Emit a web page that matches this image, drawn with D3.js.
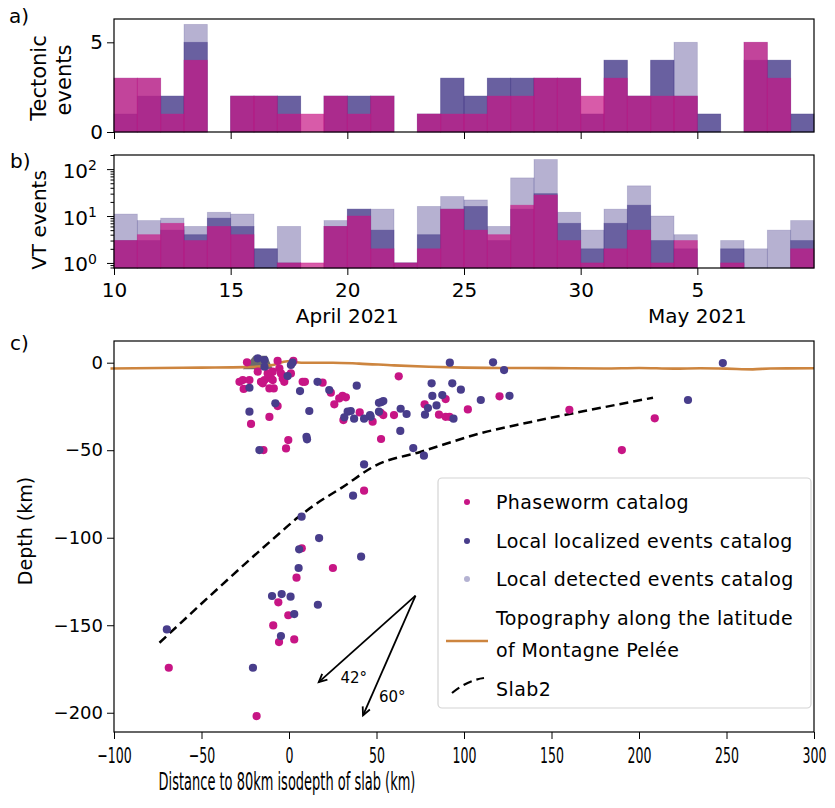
<!DOCTYPE html>
<html>
<head>
<meta charset="utf-8">
<script src="https://cdn.jsdelivr.net/npm/d3@7"></script>
<style>
  body { margin: 0; background: #fff; }
  svg text { font-family: "DejaVu Sans", sans-serif; fill: #000; }
</style>
</head>
<body>
<svg id="fig" width="835" height="808"></svg>
<script>
// ---- data ----
// daily bins, first bin starts 10 April 2021
const firstDay = "2021-04-10";
const nDays = 30;
const dateTicks = ["2021-04-10", "2021-04-15", "2021-04-20", "2021-04-25", "2021-04-30", "2021-05-05"];
const monthLabels = ["April 2021", "May 2021"];
const monthLabelDates = ["2021-04-20", "2021-05-05"];

// a) tectonic events per day
const tectDetected  = [3, 3, 2, 6, 0, 2, 2, 2, 0, 2, 2, 2, 0, 1, 3, 2, 3, 3, 3, 3, 1, 4, 2, 4, 5, 1, 0, 5, 4, 1];
const tectLocalized = [1, 2, 2, 5, 0, 2, 2, 2, 0, 2, 2, 2, 0, 1, 3, 2, 3, 3, 3, 3, 1, 4, 2, 4, 2, 1, 0, 4, 4, 1];
const tectPhaseworm = [3, 3, 1, 4, 0, 2, 2, 1, 1, 2, 1, 2, 0, 1, 1, 1, 2, 2, 3, 3, 2, 3, 2, 2, 2, 0, 0, 5, 3, 0];

// b) VT events per day
const vtDetected  = [11, 8, 9, 6, 12, 11, 2, 6, 0, 8, 14, 14, 1, 16, 26, 22, 6, 65, 160, 12, 5, 14, 44, 10, 4, 0, 3, 2, 5, 8];
const vtLocalized = [3, 3, 5, 4, 9, 6, 2, 1, 0, 6, 14, 5, 1, 4, 14, 16, 3, 14, 30, 7, 2, 7, 17, 3, 2, 0, 2, 0, 0, 3];
const vtPhaseworm = [3, 4, 7, 3, 6, 4, 0, 1, 1, 6, 10, 2, 1, 2, 14, 5, 4, 17, 28, 3, 1, 2, 5, 1, 3, 0, 1, 0, 0, 2];

// c) hypocentres [distance km, depth km]
const phasewormPts = [
  [-24, 0.2], [-6.5, 1], [2.5, 1], [-28.3, -10.9], [-26.4, -9.9], [-22.6, -9.9], [-25.9, -15], [-16, -10.9],
  [-14, -9.9], [-10.3, -9], [-9.3, -9.9], [-3.6, -9], [-2.7, -10.9], [-4.6, -6.1], [-1.7, -8], [1.1, -6.1],
  [-17.9, -5.1], [-15, -11.8], [-11.2, -14.7], [-8.7, -14.7], [-9.3, -5.1], [-12.2, -6.1], [-5.5, -3.2],
  [7.8, -10.9], [9.1, -10.9], [19.2, -11.4], [23.9, -17.1], [25.9, -23.8], [28.7, -20.4], [30.6, -19],
  [32.5, -19.8], [-6.5, -24.8], [-21.7, -35], [-11.2, -31], [-0.4, -44.2], [-1.7, -49], [-14.6, -49.9],
  [62.7, -7.8], [89.5, -20.8], [77.5, -23.8], [102.2, -26.7], [120.3, -19.2], [160.2, -26.9], [60, -29.9],
  [52.4, -28.6], [53.9, -29.9], [47.8, -33.7], [40.4, -28.4], [31.1, -32.8], [85.7, -29.7], [89.5, -30.9],
  [91.7, -30.9], [52.6, -43.6], [42.9, -73.1], [209, -31.8], [190.2, -49.9],
  [7.3, -106], [25.1, -117.3], [4.3, -122.8], [-6.1, -136.9], [-0.4, -144.3], [-9, -150.1], [-5.7, -159.6],
  [3, -158.1], [-68.7, -174.3], [-18.5, -201.9]
];
const localizedPts = [
  [-17.9, 2.5], [-14, 1.5], [2, 0], [-22.6, -14.3], [-0.8, -7.6], [-14, -2.3], [1.1, -1.3], [16.3, -10.9],
  [6.3, -16.2], [23, -15.6], [-7.8, -23.2], [-22.6, -28], [11.6, -27.6], [33.5, -28], [31.6, -31.2],
  [10, -42.3], [10.3, -43.8], [-16.9, -49.9],
  [91.9, 0], [116.6, 0.2], [122.9, -4.2], [38.7, -13.1], [81.5, -11.8], [93.3, -11.8], [98.2, -15.4],
  [81.9, -19], [87.6, -18.5], [52.8, -22.5], [53.9, -21.9], [51.4, -22.9], [84.3, -24.4], [79.4, -25.9],
  [109.6, -21.3], [126, -18.9], [63.8, -26.3], [67.2, -29.3], [51.4, -28], [46.7, -30.9], [46.3, -29.9],
  [42.9, -32], [37.2, -32], [35.3, -27.6], [77.7, -29.7], [94, -32], [63.6, -39], [71, -48.8], [77.1, -53.1],
  [42.9, -58.1], [247.9, -0.2], [228, -21.3],
  [36.6, -76], [7.2, -88], [17.2, -100.2], [5.8, -106.6], [41.2, -110.8], [5.5, -117.3], [-9.7, -133.3],
  [-4.2, -132.2], [0.9, -133.7], [16.5, -138.3], [3, -143.6], [-4.6, -156.2], [-69.8, -152.4], [-20.6, -174.3]
];
const topoDist  = [-102, -50, -25, -15, -8, -3, 1, 4, 10, 25, 40, 60, 80, 100, 120, 150, 180, 200, 220, 235, 250, 265, 275, 300];
const topoDepth = [-3.3, -2.8, -2.5, -2.0, -1, 0.5, 1, 0.3, 0, 0, -0.5, -1.5, -2.3, -2.8, -3, -3.1, -3.3, -3.0, -3.4, -3.2, -3.4, -3.8, -3.3, -3.2];
const slabDist  = [-74, -10, 5, 15, 30, 50, 75, 113, 130, 172, 208];
const slabDepth = [-160, -101.5, -88.5, -81, -71.5, -58.5, -51, -39.4, -35.6, -27, -20];
const volcano = [-17.8, 0];
const dipOrigin = [72.3, -133.1];
const dipTips = [[17, -182.5], [42.3, -201.5]];
const dipLabels = ["42°", "60°"];
const dipLabelPos = [[37, -180.2], [59, -190.9]];

const legendLabels = ["Phaseworm catalog", "Local localized events catalog", "Local detected events catalog",
  ["Topography along the latitude", "of Montagne Pelée"], "Slab2"];

// ---- styles ----
const DSB = "#483d8b";   // darkslateblue
const MVR = "#c71585";   // mediumvioletred
const seriesStyle = [
  { color: DSB, op: 0.4 },
  { color: DSB, op: 0.7 },
  { color: MVR, op: 0.7 }
];

const svg = d3.select("#fig");
const left = 114, right = 814;

const day0 = d3.utcParse("%Y-%m-%d")(firstDay);
const x = d3.scaleUtc().domain([day0, d3.utcDay.offset(day0, nDays)]).range([left, right]);
const tickDates = dateTicks.map(d3.utcParse("%Y-%m-%d"));

function drawBars(g, y, base, arrays) {
  arrays.forEach((arr, k) => {
    const st = seriesStyle[k];
    g.selectAll(null)
      .data(arr.map((v, i) => ({ v, i })).filter(d => d.v > 0))
      .enter().append("rect")
      .attr("x", d => x(d3.utcDay.offset(day0, d.i)))
      .attr("width", d => x(d3.utcDay.offset(day0, d.i + 1)) - x(d3.utcDay.offset(day0, d.i)))
      .attr("y", d => y(d.v))
      .attr("height", d => y(base) - y(d.v))
      .attr("fill", st.color).attr("fill-opacity", st.op)
      .attr("stroke", st.color).attr("stroke-opacity", st.op * 0.6).attr("stroke-width", 0.8);
  });
}

function frame(top, bottom) {
  svg.append("rect").attr("x", left).attr("y", top).attr("width", right - left).attr("height", bottom - top)
    .attr("fill", "none").attr("stroke", "#000").attr("stroke-width", 1.2);
}

// ---- panel a ----
const aTop = 19, aBot = 132;
const ya = d3.scaleLinear().domain([0, 6.3]).range([aBot, aTop]);
const ga = svg.append("g");
drawBars(ga, ya, 0, [tectDetected, tectLocalized, tectPhaseworm]);
frame(aTop, aBot);
svg.append("g").attr("transform", `translate(${left},0)`)
  .call(d3.axisLeft(ya).tickValues([0, 5]).tickFormat(d3.format("d")).tickSize(7).tickPadding(4))
  .call(g => g.select(".domain").remove())
  .call(g => g.selectAll("text").attr("font-size", 20));
svg.append("g").attr("transform", `translate(0,${aBot})`)
  .call(d3.axisBottom(x).tickValues(tickDates).tickSize(7).tickFormat(""))
  .call(g => g.select(".domain").remove());
svg.append("text").attr("transform", "translate(46,78) rotate(-90)").attr("text-anchor", "middle")
  .attr("font-size", 21).text("Tectonic");
svg.append("text").attr("transform", "translate(71,80) rotate(-90)").attr("text-anchor", "middle")
  .attr("font-size", 21).text("events");
svg.append("text").attr("x", 9).attr("y", 23).attr("font-size", 20).text("a)");

// ---- panel b ----
const bTop = 155, bBot = 268;
const yb = d3.scaleLog().domain([0.78, 200]).range([bBot, bTop]);
const gb = svg.append("g");
drawBars(gb, yb, 0.78, [vtDetected, vtLocalized, vtPhaseworm]);
frame(bTop, bBot);
const minorB = [0.8, 0.9, 2, 3, 4, 5, 6, 7, 8, 9, 20, 30, 40, 50, 60, 70, 80, 90, 200];
svg.append("g").attr("transform", `translate(${left},0)`)
  .call(d3.axisLeft(yb).tickValues(minorB).tickSize(3.5).tickFormat(""))
  .call(g => g.select(".domain").remove());
const yAxB = svg.append("g").attr("transform", `translate(${left},0)`)
  .call(d3.axisLeft(yb).tickValues([1, 10, 100]).tickSize(7).tickFormat(""))
  .call(g => g.select(".domain").remove());
yAxB.selectAll(".tick").each(function (d) {
  const t = d3.select(this).append("text").attr("x", -17).attr("dy", "0.4em")
    .attr("text-anchor", "end").attr("font-size", 20);
  t.append("tspan").text("10");
  t.append("tspan").attr("dy", "-0.55em").attr("font-size", 14).text(String(Math.round(Math.log10(d))));
});
svg.append("g").attr("transform", `translate(0,${bBot})`)
  .call(d3.axisBottom(x).tickValues(tickDates).tickSize(7).tickPadding(8).tickFormat(d3.utcFormat("%-d")))
  .call(g => g.select(".domain").remove())
  .call(g => g.selectAll("text").attr("font-size", 20));
monthLabels.forEach((m, i) => {
  svg.append("text").attr("x", x(d3.utcParse("%Y-%m-%d")(monthLabelDates[i]))).attr("y", 323)
    .attr("text-anchor", "middle").attr("font-size", 20).text(m);
});
svg.append("text").attr("transform", "translate(46,220) rotate(-90)").attr("text-anchor", "middle")
  .attr("font-size", 20).text("VT events");
svg.append("text").attr("x", 10).attr("y", 168).attr("font-size", 20).text("b)");

// ---- panel c ----
const cTop = 341, cBot = 732;
const xc = d3.scaleLinear().domain([-100, 300]).range([left, right]);
const yc = d3.scaleLinear().domain([-211, 12.4]).range([cBot, cTop]);
const gc = svg.append("g");

// volcano marker
gc.append("path")
  .attr("transform", `translate(${xc(volcano[0])},${yc(volcano[1])})`)
  .attr("d", "M-15,6.5L-4,-7L9,-7L15,6.5Z").attr("fill", "#6b6b6b");

gc.append("path")
  .datum(topoDist.map((d, i) => [d, topoDepth[i]]))
  .attr("d", d3.line().x(d => xc(d[0])).y(d => yc(d[1])).curve(d3.curveMonotoneX))
  .attr("fill", "none").attr("stroke", "#cd853f").attr("stroke-width", 2.6);

gc.append("path")
  .datum(slabDist.map((d, i) => [d, slabDepth[i]]))
  .attr("d", d3.line().x(d => xc(d[0])).y(d => yc(d[1])).curve(d3.curveMonotoneX))
  .attr("fill", "none").attr("stroke", "#000").attr("stroke-width", 2.5).attr("stroke-dasharray", "9,5");

gc.selectAll(".pw").data(phasewormPts).enter().append("circle")
  .attr("cx", d => xc(d[0])).attr("cy", d => yc(d[1])).attr("r", 4.1).attr("fill", MVR);
gc.selectAll(".lo").data(localizedPts).enter().append("circle")
  .attr("cx", d => xc(d[0])).attr("cy", d => yc(d[1])).attr("r", 4.1).attr("fill", DSB);

// dip arrows
dipTips.forEach((tip, i) => {
  const x0 = xc(dipOrigin[0]), y0 = yc(dipOrigin[1]);
  const x1 = xc(tip[0]), y1 = yc(tip[1]);
  const ang = Math.atan2(y1 - y0, x1 - x0);
  const hl = 9, ha = 0.45;
  gc.append("line").attr("x1", x0).attr("y1", y0).attr("x2", x1).attr("y2", y1)
    .attr("stroke", "#000").attr("stroke-width", 1.8);
  gc.append("path")
    .attr("d", `M${x1 - hl * Math.cos(ang - ha)},${y1 - hl * Math.sin(ang - ha)}L${x1},${y1}L${x1 - hl * Math.cos(ang + ha)},${y1 - hl * Math.sin(ang + ha)}`)
    .attr("fill", "none").attr("stroke", "#000").attr("stroke-width", 1.8);
  gc.append("text").attr("x", xc(dipLabelPos[i][0])).attr("y", yc(dipLabelPos[i][1]))
    .attr("text-anchor", "middle").attr("dy", "0.35em").attr("font-size", 15).attr("fill", "#222")
    .text(dipLabels[i]);
});

frame(cTop, cBot);
svg.append("g").attr("transform", `translate(0,${cBot})`)
  .call(d3.axisBottom(xc).tickValues(d3.range(-100, 301, 50)).tickSize(7).tickPadding(8))
  .call(g => g.select(".domain").remove())
  .call(g => g.selectAll("text").attr("font-size", 22).attr("transform", "scale(0.57,1)"));
svg.append("g").attr("transform", `translate(${left},0)`)
  .call(d3.axisLeft(yc).tickValues([0, -50, -100, -150, -200]).tickSize(7).tickPadding(4))
  .call(g => g.select(".domain").remove())
  .call(g => g.selectAll("text").attr("font-size", 18));
svg.append("text").attr("transform", "translate(287,790) scale(0.52,1)").attr("text-anchor", "middle")
  .attr("font-size", 25).text("Distance to 80km isodepth of slab (km)");
svg.append("text").attr("transform", "translate(32,531) rotate(-90)").attr("text-anchor", "middle")
  .attr("font-size", 19).text("Depth (km)");
svg.append("text").attr("x", 10).attr("y", 350).attr("font-size", 20).text("c)");

// legend
const lg = svg.append("g");
lg.append("rect").attr("x", 438).attr("y", 478).attr("width", 373).attr("height", 230).attr("rx", 4)
  .attr("fill", "#fff").attr("fill-opacity", 0.85).attr("stroke", "#d4d4d4").attr("stroke-width", 1.2);
const rowY = [502, 541, 579, 618, 689];
const mk = [MVR, DSB, "#b4b2d2"];
mk.forEach((c, i) => lg.append("circle").attr("cx", 467).attr("cy", rowY[i]).attr("r", 3).attr("fill", c));
lg.append("line").attr("x1", 446).attr("x2", 488).attr("y1", 641).attr("y2", 641)
  .attr("stroke", "#cd853f").attr("stroke-width", 2.6);
lg.append("path").attr("d", "M452,693 Q468,680 484,678").attr("fill", "none")
  .attr("stroke", "#000").attr("stroke-width", 2.2).attr("stroke-dasharray", "9,5");
legendLabels.forEach((lab, i) => {
  const t = lg.append("text").attr("x", 496).attr("y", rowY[i]).attr("dy", "0.35em")
    .attr("font-size", 19).attr("letter-spacing", 0.4);
  if (Array.isArray(lab)) {
    t.append("tspan").attr("x", 496).text(lab[0]);
    t.append("tspan").attr("x", 496).attr("dy", 32).text(lab[1]);
  } else {
    t.text(lab);
  }
});
</script>
</body>
</html>
